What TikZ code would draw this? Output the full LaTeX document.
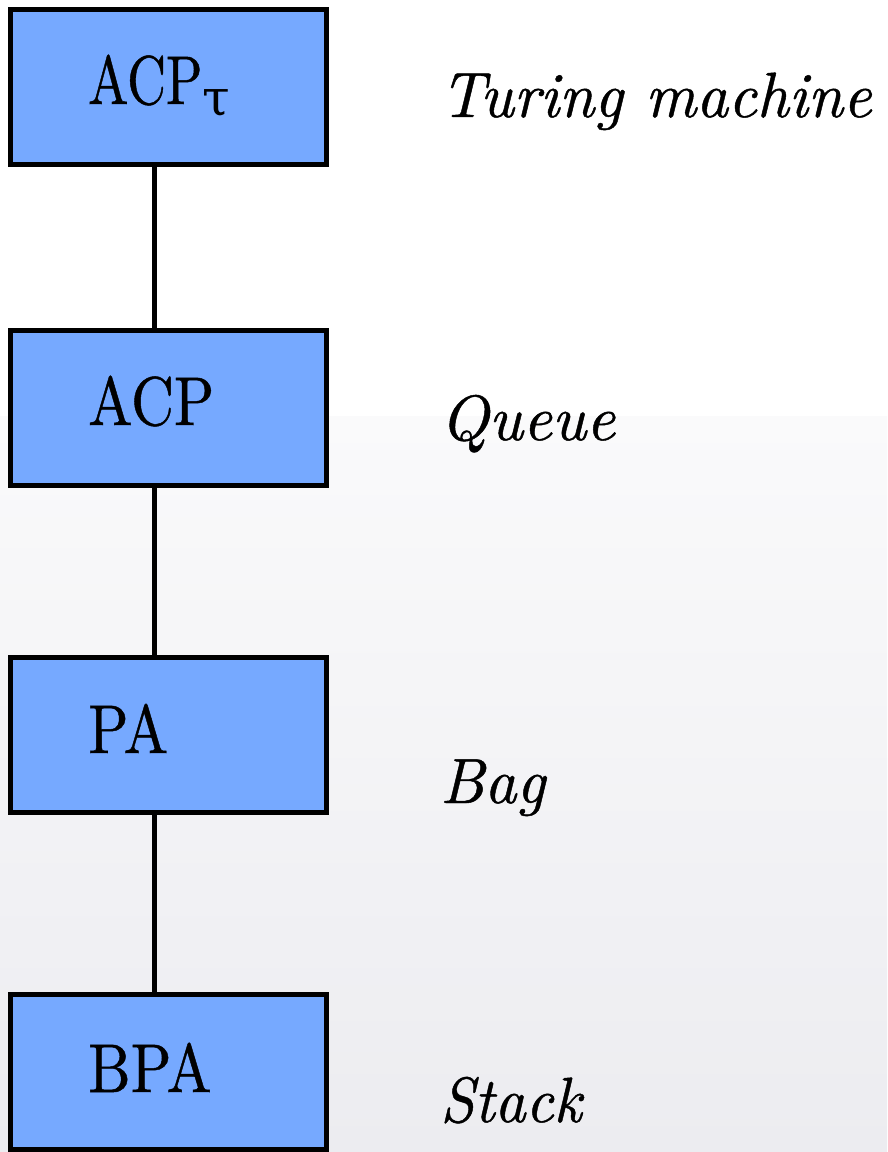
\documentclass[tikz,border=0pt]{standalone}
\usepackage{fontspec}
% 10pt optical design of Latin Modern, slightly emboldened for large sizes
\setmainfont{lmroman10-regular.otf}[FakeBold=0.7,
  ItalicFont=lmroman10-italic.otf, ItalicFeatures={FakeBold=0.7}]
\newfontfamily\greekface{DejaVu Serif}
\definecolor{boxblue}{RGB}{118,169,255}
\definecolor{bgtop}{RGB}{250,250,251}
\definecolor{bgbottom}{RGB}{236,236,240}
\newcommand{\squeeze}[2]{\scalebox{#1}[1]{#2}}
\begin{document}
\begin{tikzpicture}[x=1pt,y=-1pt,
  level/.style={draw=black, line width=5pt, fill=boxblue, rectangle,
    minimum width=316pt, minimum height=155pt, inner sep=0pt},
  link/.style={draw=black, line width=4.5pt},
  boxlabel/.style={anchor=base west, inner sep=0pt,
    font=\fontsize{69}{78}\selectfont},
  machine/.style={anchor=base west, inner sep=0pt,
    font=\fontsize{64}{74}\selectfont\itshape}]
  \useasboundingbox (0,0) rectangle (887,1152);
  % background: white upper part, soft grey fade below
  \fill[white] (0,0) rectangle (887,416);
  \shade[top color=bgtop, bottom color=bgbottom] (0,416) rectangle (887,1152);

  % x position of the vertical connectors
  \coordinate (spine) at (154.5,0);

  % hierarchy boxes
  \node[level] (acptau) at (168.5,86.5) {};
  \node[level] (acp)    at (168.5,408)  {};
  \node[level] (pa)     at (168.5,735)  {};
  \node[level] (bpa)    at (168.5,1072) {};

  % connectors between consecutive levels
  \draw[link] (acptau.south -| spine) -- (acp.north -| spine);
  \draw[link] (acp.south -| spine) -- (pa.north -| spine);
  \draw[link] (pa.south -| spine) -- (bpa.north -| spine);

  % box labels
  \node[boxlabel] (tacptau) at (88,104)
    {\squeeze{0.78}{ACP}\raisebox{-11pt}{\greekface\fontsize{50}{56}\selectfont τ}};
  \node[boxlabel] (tacp) at (88,425) {\squeeze{0.86}{ACP}};
  \node[boxlabel] (tpa)  at (88,753) {\squeeze{0.86}{PA}};
  \node[boxlabel] (tbpa) at (88,1092) {\squeeze{0.87}{BPA}};

  % corresponding machine models
  \node[machine] (mturing) at (440,117)  {\squeeze{0.975}{Turing machine}};
  \node[machine] (mqueue)  at (440,440)  {\squeeze{0.99}{Queue}};
  \node[machine] (mbag)    at (440,803)  {\squeeze{0.98}{Bag}};
  \node[machine] (mstack)  at (440,1122) {\squeeze{0.95}{Stack}};
\end{tikzpicture}
\end{document}
